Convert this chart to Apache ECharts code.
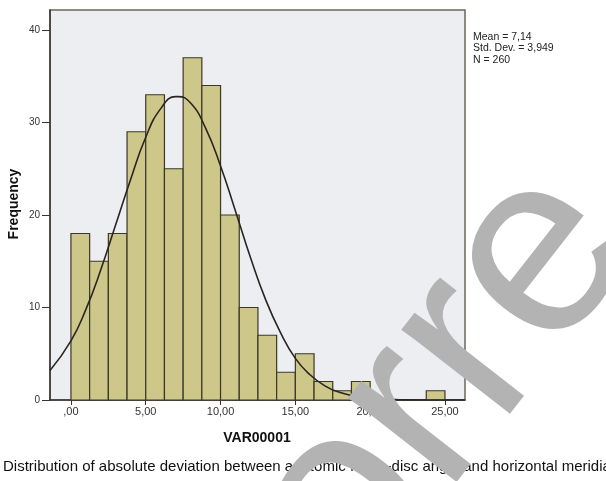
<!DOCTYPE html>
<html>
<head>
<meta charset="utf-8">
<script src="https://cdn.jsdelivr.net/npm/echarts@6/dist/echarts.min.js"></script>
<style>
  html, body { margin: 0; padding: 0; background: #fff; }
  #chart { width: 606px; height: 481px; }
</style>
</head>
<body>
<div id="chart"></div>
<script>
// histogram bins (lower edge), width 1.25
var binStart = [0, 1.25, 2.5, 3.75, 5, 6.25, 7.5, 8.75, 10, 11.25, 12.5, 13.75, 15, 16.25, 17.5, 18.75, 20, 21.25, 22.5, 23.75];
var binWidth = 1.25;
var counts = [18, 15, 18, 29, 33, 25, 37, 34, 20, 10, 7, 3, 5, 2, 1, 2, 0, 0, 0, 1];

// normal curve
var curveX = [-1.4, 0, 1, 2, 3, 4, 5, 6, 7, 7.14, 8, 9, 10, 11, 12, 13, 14, 15, 16, 17, 18, 19, 20, 21, 22, 23, 26.3];
var curveY = [3.2, 6.4, 9.8, 14.1, 19.0, 23.9, 28.4, 31.5, 32.8, 32.8, 32.1, 29.4, 25.3, 20.4, 15.4, 10.9, 7.3, 4.5, 2.7, 1.5, 0.8, 0.4, 0.2, 0.1, 0.03, 0.01, 0];

var xTicks = [0, 5, 10, 15, 20, 25];
var yTicks = [0, 10, 20, 30, 40];
var stats = ['Mean = 7,14', 'Std. Dev. = 3,949', 'N = 260'];

var histData = [];
for (var i = 0; i < binStart.length; i++) {
    histData.push([binStart[i], binStart[i] + binWidth, counts[i]]);
}
var curveData = [];
for (var j = 0; j < curveX.length; j++) {
    curveData.push([curveX[j], curveY[j]]);
}

var chart = echarts.init(document.getElementById('chart'));

var font = '"Liberation Sans", Arial, sans-serif';

var option = {
    animation: false,
    backgroundColor: '#ffffff',
    grid: {
        left: 50, top: 10, width: 415, height: 390,
        show: true,
        backgroundColor: '#eceef1',
        borderColor: '#6e665e',
        borderWidth: 1.5
    },
    xAxis: {
        type: 'value',
        min: -1.4,
        max: 26.34,
        splitLine: { show: false },
        axisLine: { show: true, onZero: false, lineStyle: { color: '#3a3530', width: 1.5 } },
        axisTick: { show: true, customValues: xTicks, length: 5, lineStyle: { color: '#3a3530' } },
        axisLabel: {
            customValues: xTicks,
            color: '#333', fontSize: 11, fontFamily: font, margin: 6,
            formatter: function (v) { return (v === 0 ? '' : v) + ',00'; }
        }
    },
    yAxis: {
        type: 'value',
        min: 0,
        max: 42.16,
        splitLine: { show: false },
        axisLine: { show: true, onZero: false, lineStyle: { color: '#3a3530', width: 1.5 } },
        axisTick: { show: true, customValues: yTicks, length: 8, lineStyle: { color: '#3a3530' } },
        axisLabel: { customValues: yTicks, color: '#333', fontSize: 10, fontFamily: font, margin: 10 }
    },
    series: [
        {
            type: 'custom',
            data: histData,
            renderItem: function (params, api) {
                var p0 = api.coord([api.value(0), 0]);
                var p1 = api.coord([api.value(1), api.value(2)]);
                return {
                    type: 'rect',
                    shape: { x: p0[0], y: p1[1], width: p1[0] - p0[0], height: p0[1] - p1[1] },
                    style: { fill: '#cdc78a', stroke: '#3b3826', lineWidth: 1.2 }
                };
            }
        },
        {
            type: 'line',
            data: curveData,
            smooth: true,
            symbol: 'none',
            lineStyle: { color: '#2a2522', width: 1.6 },
            z: 5
        }
    ],
    graphic: [
        {
            type: 'text', x: 473, y: 31,
            style: { text: stats.join('\n'), font: '10.5px ' + font, fill: '#222', lineHeight: 11.5 }
        },
        {
            type: 'text', x: 257, y: 438,
            style: { text: 'VAR00001', font: 'bold 14px ' + font, fill: '#111', align: 'center', verticalAlign: 'middle' }
        },
        {
            type: 'text', x: 14, y: 204, rotation: Math.PI / 2,
            style: { text: 'Frequency', font: 'bold 14px ' + font, fill: '#111', align: 'center', verticalAlign: 'middle' }
        },
        {
            type: 'text', x: 3, y: 467,
            style: { text: 'Distribution of absolute deviation between anatomic fovea-disc angle and horizontal meridian', font: '15px ' + font, fill: '#111', verticalAlign: 'middle' }
        },
        {
            type: 'text', x: 300, y: 566, rotation: 0.9076, z: 100,
            style: { text: 'orre', font: '260px ' + font, fill: '#b3b3b3', verticalAlign: 'middle' }
        }
    ]
};

chart.setOption(option);
</script>
</body>
</html>
